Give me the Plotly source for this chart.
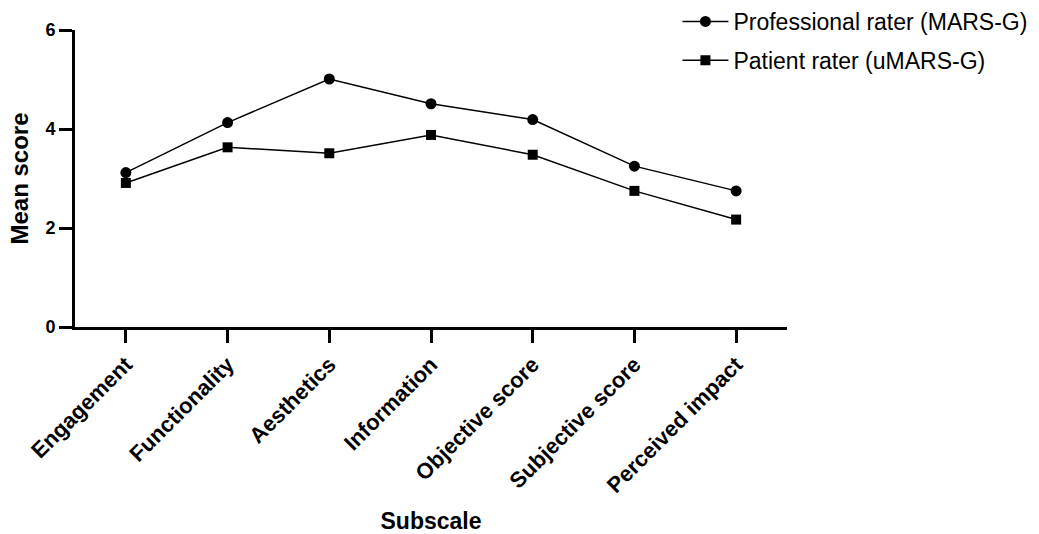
import plotly.graph_objects as go

subscales = ["Engagement", "Functionality", "Aesthetics", "Information",
             "Objective score", "Subjective score", "Perceived impact"]
professional = [3.12, 4.13, 5.01, 4.51, 4.19, 3.25, 2.75]
patient = [2.91, 3.63, 3.51, 3.88, 3.48, 2.75, 2.17]

FONT = "Liberation Sans, Arial, sans-serif"

fig = go.Figure()
fig.add_trace(go.Scatter(
    x=subscales, y=professional, mode="lines+markers",
    name="Professional rater (MARS-G)", legendgroup="pro",
    line=dict(color="black", width=1.5),
    marker=dict(symbol="circle", size=11, color="black"),
))
fig.add_trace(go.Scatter(
    x=subscales, y=patient, mode="lines+markers",
    name="Patient rater (uMARS-G)", legendgroup="pat",
    line=dict(color="black", width=1.5),
    marker=dict(symbol="square", size=10, color="black"),
))

fig.update_layout(
    width=1039, height=534,
    margin=dict(l=75, r=252, t=30, b=207, autoexpand=False),
    paper_bgcolor="white", plot_bgcolor="white",
    font=dict(family=FONT, color="black"),
    showlegend=True,
    legend=dict(
        xref="container", yref="container",
        x=0.652, y=1.0, xanchor="left", yanchor="top",
        font=dict(size=23, family=FONT, color="black"),
        itemwidth=46, tracegroupgap=6, bgcolor="rgba(0,0,0,0)",
    ),
    xaxis=dict(
        range=[-0.5, 6.5], showgrid=False, zeroline=False,
        showline=True, linecolor="black", linewidth=3,
        ticks="outside", ticklen=13, tickwidth=3, tickcolor="black",
        tickangle=-45,
        tickfont=dict(size=22, family=FONT, color="black", weight="bold"),
        title=dict(text="<b>Subscale</b>", font=dict(size=23, family=FONT), standoff=22),
    ),
    yaxis=dict(
        range=[0, 6], tickvals=[0, 2, 4, 6], showgrid=False, zeroline=False,
        showline=True, linecolor="black", linewidth=3,
        ticks="outside", ticklen=13, tickwidth=3, tickcolor="black",
        tickfont=dict(size=18, family=FONT, color="black", weight="bold"),
        title=dict(text="<b>Mean score</b>", font=dict(size=24, family=FONT), standoff=10),
    ),
)

fig.write_html("out.html")
